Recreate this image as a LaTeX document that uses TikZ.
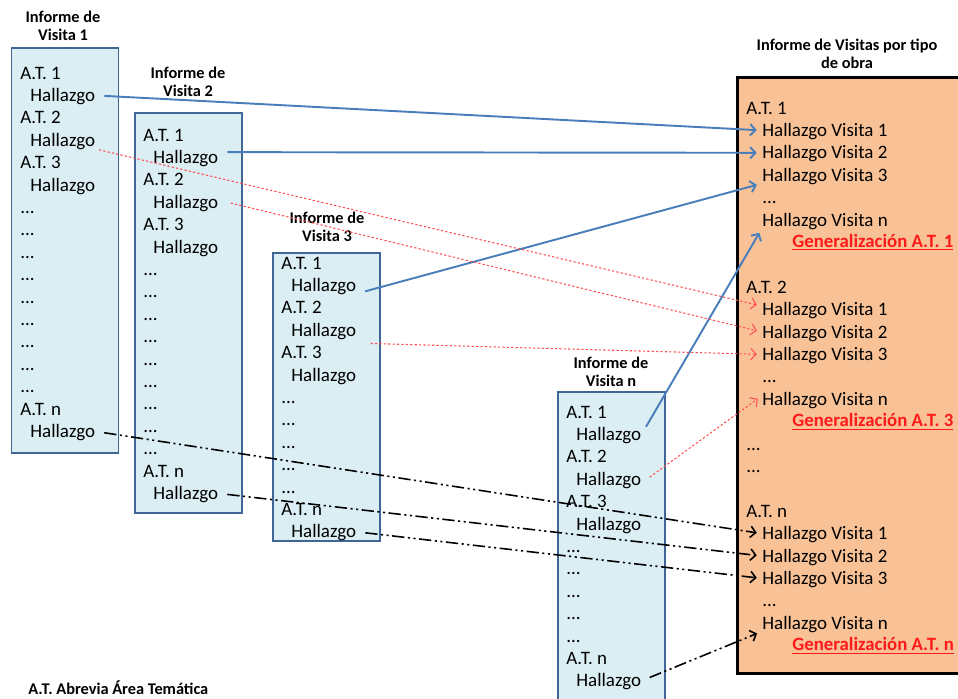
\documentclass[tikz,border=0pt]{standalone}
\usepackage{fontspec}
\setmainfont{Carlito}
\usetikzlibrary{arrows.meta}
\definecolor{visitfill}{HTML}{DBEEF4}
\definecolor{visitline}{HTML}{3F6694}
\definecolor{obrafill}{HTML}{F9C296}
\definecolor{findblue}{HTML}{4A7EBB}
\definecolor{findred}{HTML}{FF4F4F}
\definecolor{genred}{HTML}{FF1A1A}

\begin{document}
\begin{tikzpicture}[x=0.02cm, y=-0.02cm,
visit/.style ={draw=visitline, fill=visitfill, line width=1.1pt, minimum width=2.14cm},
obra/.style ={fill=obrafill},
obraedge/.style ={draw=black, line width=1.5pt},
row/.style ={anchor=west, inner sep=0pt, text height=8pt, text depth=1pt, font=\fontsize{10.8}{12}\selectfont},
title/.style ={align=center, inner sep=0pt, font=\fontsize{9.3}{10.4}\selectfont\bfseries},
gen/.style ={anchor=west, inner sep=0pt, text=genred, font=\fontsize{10.7}{12}\selectfont\bfseries},
tip/.style ={-{Straight Barb[length=3pt,width=6.5pt]}},
blueway/.style ={tip, draw=findblue, line width=1.1pt, shorten <=5pt, shorten >=3pt},
redway/.style ={tip, draw=findred, line width=0.6pt, dash pattern=on 1.3pt off 1.2pt, shorten <=2pt, shorten >=3pt},
blackway/.style ={tip, draw=black, line width=0.9pt, dash pattern=on 7pt off 2pt on 1.2pt off 2pt on 1.2pt off 2pt, shorten <=5pt, shorten >=3pt}]

\useasboundingbox (0,0) rectangle (958,698);

% boxes
\node[visit, minimum height=8.1cm] (V1) at (65,250.5) {};
\node[visit, minimum height=8.0cm] (V2) at (188.5,313) {};
\node[visit, minimum height=5.76cm] (V3) at (326.5,397) {};
\node[visit, minimum height=6.72cm] (Vn) at (611.5,560) {};
\node[obra, inner sep=0pt, minimum width=5cm, minimum height=11.9cm] (OB) at (863,375.5) {};
\draw[obraedge] (OB.north east) -- (OB.north west) -- (OB.south west) -- (OB.south east);

% titles
\node[title] (V1t) at (63,26) {Informe de\\Visita 1};
\node[title] (V2t) at (188,82) {Informe de\\Visita 2};
\node[title] (V3t) at (327,227) {Informe de\\Visita 3};
\node[title] (Vnt) at (611,372) {Informe de\\Visita n};
\node[title] (OBt) at (847,54) {Informe de Visitas por tipo\\de obra};

% visita 1
\node[row] (v1at1) at (20,73) {A.T. 1};
\node[row] (v1h1) at (30,95.4) {Hallazgo};
\node[row] (v1at2) at (20,117.8) {A.T. 2};
\node[row] (v1h2) at (30,140.2) {Hallazgo};
\node[row] (v1at3) at (20,162.6) {A.T. 3};
\node[row] (v1h3) at (30,185) {Hallazgo};
\foreach \k in {0,...,8}
  \node[row] (v1d\k) at (20,207.4+22.4*\k) {...};
\node[row] (v1atn) at (20,409) {A.T. n};
\node[row] (v1hn) at (30,431.4) {Hallazgo};

% visita 2
\node[row] (v2at1) at (143,135) {A.T. 1};
\node[row] (v2h1) at (153,157.4) {Hallazgo};
\node[row] (v2at2) at (143,179.8) {A.T. 2};
\node[row] (v2h2) at (153,202.2) {Hallazgo};
\node[row] (v2at3) at (143,224.6) {A.T. 3};
\node[row] (v2h3) at (153,247) {Hallazgo};
\foreach \k in {0,...,8}
  \node[row] (v2d\k) at (143,269.4+22.4*\k) {...};
\node[row] (v2atn) at (143,471) {A.T. n};
\node[row] (v2hn) at (153,493.4) {Hallazgo};

% visita 3
\node[row] (v3at1) at (281,263) {A.T. 1};
\node[row] (v3h1) at (291,285.4) {Hallazgo};
\node[row] (v3at2) at (281,307.8) {A.T. 2};
\node[row] (v3h2) at (291,330.2) {Hallazgo};
\node[row] (v3at3) at (281,352.6) {A.T. 3};
\node[row] (v3h3) at (291,375) {Hallazgo};
\foreach \k in {0,...,4}
  \node[row] (v3d\k) at (281,397.4+22.4*\k) {...};
\node[row] (v3atn) at (281,509.4) {A.T. n};
\node[row] (v3hn) at (291,531.8) {Hallazgo};

% visita n
\node[row] (vnat1) at (566,412) {A.T. 1};
\node[row] (vnh1) at (576,434.4) {Hallazgo};
\node[row] (vnat2) at (566,456.8) {A.T. 2};
\node[row] (vnh2) at (576,479.2) {Hallazgo};
\node[row] (vnat3) at (566,501.6) {A.T. 3};
\node[row] (vnh3) at (576,524) {Hallazgo};
\foreach \k in {0,...,4}
  \node[row] (vnd\k) at (566,546.4+22.4*\k) {...};
\node[row] (vnatn) at (566,658.4) {A.T. n};
\node[row] (vnhn) at (576,680.8) {Hallazgo};

% informe por tipo de obra
\node[row] (t1) at (746,108) {A.T. 1};
\node[row] (t1v1) at (762,130.4) {Hallazgo Visita 1};
\node[row] (t1v2) at (762,152.8) {Hallazgo Visita 2};
\node[row] (t1v3) at (762,175.2) {Hallazgo Visita 3};
\node[row] (t1d) at (762,197.6) {...};
\node[row] (t1vn) at (762,220) {Hallazgo Visita n};
\node[gen] (g1) at (792,242.4) {\underline{Generalización A.T. 1}};

\node[row] (t2) at (746,287.2) {A.T. 2};
\node[row] (t2v1) at (762,309.6) {Hallazgo Visita 1};
\node[row] (t2v2) at (762,332) {Hallazgo Visita 2};
\node[row] (t2v3) at (762,354.4) {Hallazgo Visita 3};
\node[row] (t2d) at (762,376.8) {...};
\node[row] (t2vn) at (762,399.2) {Hallazgo Visita n};
\node[gen] (g3) at (792,421.6) {\underline{Generalización A.T. 3}};
\node[row] (r1) at (746,444) {...};
\node[row] (r2) at (746,466.4) {...};

\node[row] (tn) at (746,511.2) {A.T. n};
\node[row] (tnv1) at (762,533.6) {Hallazgo Visita 1};
\node[row] (tnv2) at (762,556) {Hallazgo Visita 2};
\node[row] (tnv3) at (762,578.4) {Hallazgo Visita 3};
\node[row] (tnd) at (762,600.8) {...};
\node[row] (tnvn) at (762,623.2) {Hallazgo Visita n};
\node[gen] (gn) at (792,645.6) {\underline{Generalización A.T. n}};

\node[title, anchor=west] (nota) at (28,688) {A.T. Abrevia Área Temática};

% A.T. 1
\draw[blueway] (v1h1.east) -- (t1v1.west);
\draw[blueway] ([yshift=3pt]v2h1.east) -- (t1v2.west);
\draw[blueway] (v3h1.south east) -- (t1v3.south west);
\draw[blueway] (vnh1.east) -- (t1vn.south west);
% A.T. 2
\draw[redway] ([yshift=-5pt]v1h2.east) -- ([yshift=2pt]t2v1.west);
\draw[redway] ([xshift=5pt]v2h2.east) -- (t2v2.west);
\draw[redway] ([yshift=-7.5pt,xshift=6pt]v3h2.east) -- (t2v3.west);
\draw[redway] ([xshift=3pt]vnh2.east) -- ([yshift=2pt]t2vn.west);
% A.T. n
\draw[blackway] (v1hn.east) -- (tnv1.west);
\draw[blackway] (v2hn.east) -- (tnv2.west);
\draw[blackway] (v3hn.east) -- (tnv3.west);
\draw[blackway] (vnhn.east) -- (tnvn.south west);

\end{tikzpicture}
\end{document}
